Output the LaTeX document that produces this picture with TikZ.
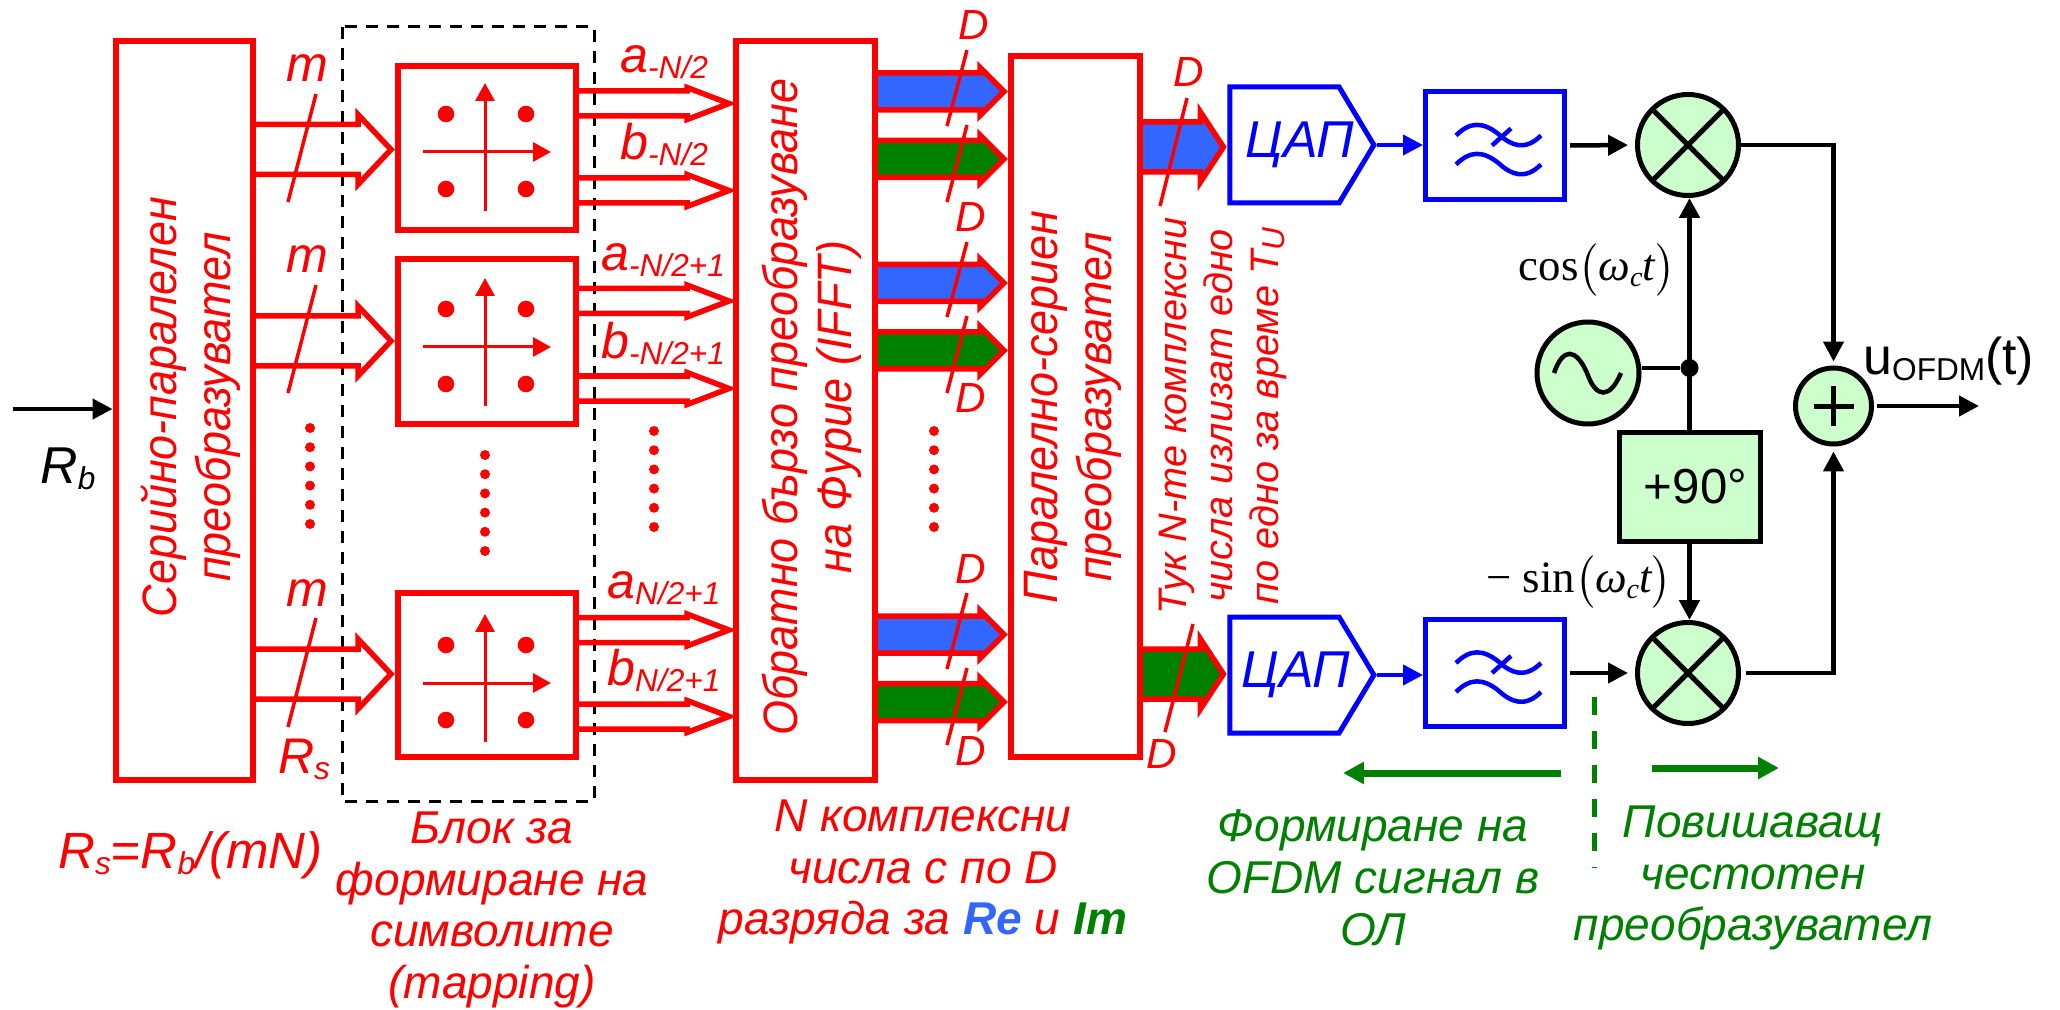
\documentclass[tikz,border=0pt]{standalone}
\usepackage{amsmath}
\usepackage[no-math]{fontspec}
\setmainfont{Liberation Sans}
\newfontfamily\narrowf[FakeStretch=0.93]{Liberation Sans}
\newfontfamily\timesf{Liberation Serif}
\usetikzlibrary{arrows.meta,calc,shapes.symbols}

\definecolor{bitred}{RGB}{255,0,0}
\definecolor{rereal}{RGB}{51,102,255}
\definecolor{imgreen}{RGB}{0,128,0}
\definecolor{mixgreen}{RGB}{204,255,204}

\newlength{\pxu}
\setlength{\pxu}{0.02cm}

% subscript used in the labels
\newcommand{\subs}[1]{\raisebox{-6\pxu}{\fontsize{18}{20}\selectfont #1}}
\newcommand{\carrier}{\timesf$\bigl($\itshape ω\raisebox{-6\pxu}{\fontsize{16}{18}\selectfont c}t\upshape$\bigr)$}

% from, to, y, half shaft, half head, head length, fill
\newcommand{\fatarrow}[7]{%
  \coordinate (t) at ($(#2.west |- 0,#3)+(-4,0)$);
  \draw[busline,fill=#7] (#1.east |- 0,#3) ++(0,-#4) -- ($(t)+(-#6,-#4)$) -- ($(t)+(-#6,-#5)$)
     -- (t) -- ($(t)+(-#6,#5)$) -- ($(t)+(-#6,#4)$) -- ($(#1.east |- 0,#3)+(0,#4)$);
}

\tikzset{
  sigtip/.tip={Triangle[length=11.3pt,width=11.3pt]},
  axistip/.tip={Triangle[length=10.2pt,width=10.8pt]},
  greentip/.tip={Triangle[length=11.9pt,width=11.9pt]},
  busline/.style={draw=bitred,line width=5.5\pxu,line join=miter},
  redbox/.style={draw=bitred,line width=6\pxu,inner sep=0pt},
  bluebox/.style={draw=blue,line width=5\pxu,inner sep=0pt,text=blue},
  dacbox/.style={bluebox,boxsize={144}{116},signal,signal to=east,signal pointer angle=118},
  dactxt/.style={text=blue,inner sep=0pt,font=\fontsize{29.5}{30}\selectfont\itshape},
  blackbox/.style={draw=black,line width=5\pxu,fill=mixgreen,inner sep=0pt},
  boxsize/.style 2 args={minimum width=#1\pxu,minimum height=#2\pxu},
  txt/.style={text=bitred,inner sep=0pt,align=center,font=\narrowf\fontsize{27.5}{30.6}\selectfont\itshape},
  flat/.style={text=bitred,inner sep=0pt,align=center,font=\fontsize{26.2}{29.5}\selectfont\itshape},
  greentxt/.style={flat,text=imgreen},
  sidetxt/.style={flat,font=\fontsize{22.6}{26}\selectfont\itshape},
  dlabel/.style={text=bitred,inner sep=0pt,anchor=base,font=\fontsize{24}{28}\selectfont\itshape},
  mlabel/.style={text=bitred,inner sep=0pt,anchor=base,font=\fontsize{28.5}{30}\selectfont\itshape},
  sublabel/.style={mlabel,anchor=base west},
  mathtxt/.style={inner sep=0pt,font=\fontsize{25.5}{30}\selectfont},
  slash/.style={draw=bitred,line width=3.5\pxu},
  vdots/.style={draw=bitred,line width=10\pxu,line cap=round,dash pattern=on 0pt off 19.2\pxu},
  sig/.style={draw=black,line width=4.5\pxu,-sigtip},
  sigbold/.style={sig,line width=5.5\pxu},
  bluesig/.style={draw=blue,fill=blue,line width=4\pxu,-sigtip},
  greenarrow/.style={draw=imgreen,line width=7\pxu,-greentip},
  qamsym/.pic={
    \draw[bitred,line width=3\pxu,-axistip] (-1,59) -- (-1,-69);
    \draw[bitred,line width=3\pxu,-axistip] (-63,0) -- (65,0);
    \fill[bitred] (-40,-38) circle (8.3);
    \fill[bitred] (40,-38) circle (8.3);
    \fill[bitred] (-40,37) circle (8.3);
    \fill[bitred] (40,37) circle (8.3);
  },
  filtersym/.pic={
    \draw[blue,line width=4.5\pxu] (-39,-10) .. controls (-25,-24) and (-12,-24) .. (4,-11) .. controls (16,0) and (30,6) .. (46,-10);
    \draw[blue,line width=4.5\pxu] (-39,19) .. controls (-25,5) and (-12,5) .. (4,18) .. controls (16,29) and (30,35) .. (46,19);
    \draw[blue,line width=4.5\pxu] (-3,0) -- (16,-17);
  },
  crosssym/.pic={
    \draw[black,line width=5\pxu] (-34,-34) -- (34,34);
    \draw[black,line width=5\pxu] (-34,34) -- (34,-34);
  }
}

\begin{document}
\begin{tikzpicture}[x=\pxu,y=-\pxu]
\useasboundingbox (0,0) rectangle (2060,1010);

        % blocks
        \draw[black,line width=3\pxu,dash pattern=on 12\pxu off 9\pxu] (342,27) rectangle (594,801);
        \node[redbox,boxsize={137}{739}]        (sp)    at (184,410.5)  {};
        \node[redbox,boxsize={178}{164}]        (map1)  at (487,148)    {};
        \node[redbox,boxsize={178}{165}]        (map2)  at (487,341.5)  {};
        \node[redbox,boxsize={178}{164}]        (map3)  at (487,675)    {};
        \node[redbox,boxsize={139}{739}]        (ifft)  at (805.5,410.5) {};
        \node[redbox,boxsize={129}{701}]        (ps)    at (1075.5,406.5) {};
        \node[dacbox] (dac1) at (1284.5,145) {};
        \node[dacbox] (dac2) at (1284.5,675) {};
        \node[bluebox,boxsize={139}{108}]       (fil1)  at (1495,145.5) {};
        \node[bluebox,boxsize={139}{107}]       (fil2)  at (1495,673)   {};
        \node[blackbox,circle,minimum size=101\pxu] (mix1) at (1688,145) {};
        \node[blackbox,circle,minimum size=101\pxu] (mix2) at (1688,673) {};
        \node[blackbox,circle,minimum size=102\pxu] (osc)  at (1588,373) {};
        \node[blackbox,circle,minimum size=76\pxu]  (sum)  at (1833.5,406) {};
        \node[blackbox,boxsize={141}{109},font=\fontsize{28}{30}\selectfont] (shift) at (1689.5,486.5) {\hspace*{12\pxu}+90°};
        \node[circle,fill=black,inner sep=0pt,minimum size=18\pxu] (junc) at (1689.5,368) {};

        % block contents
        \node[dactxt] (dac1txt) at (1300,145) {ЦАП};
        \node[dactxt] (dac2txt) at (1296,675) {ЦАП};
        \pic at (486,152) {qamsym};
        \pic at (486,347) {qamsym};
        \pic at (486,683) {qamsym};
        \pic at (fil1) {filtersym};
        \pic at (fil2) {filtersym};
        \pic at (mix1) {crosssym};
        \pic at (mix2) {crosssym};
        \draw[black,line width=4.5\pxu] (1554,373) .. controls (1563,347) and (1576,348) .. (1587,373) .. controls (1596,399) and (1610,399) .. (1621,373);
        \draw[black,line width=5\pxu] (1813.5,406) -- (1853.5,406);
        \draw[black,line width=5\pxu] (1833.5,386) -- (1833.5,426);

        % buses
        \fatarrow{sp}{map1}{149.5}{25}{35}{33}{none}
        \fatarrow{sp}{map2}{341}{25}{35}{33}{none}
        \fatarrow{sp}{map3}{674}{25}{35}{33}{none}
        \fatarrow{map1}{ifft}{103.5}{12.5}{16}{42}{none}
        \fatarrow{map1}{ifft}{190.5}{12.5}{16}{42}{none}
        \fatarrow{map2}{ifft}{301}{12.5}{16}{42}{none}
        \fatarrow{map2}{ifft}{388.5}{12.5}{16}{42}{none}
        \fatarrow{map3}{ifft}{630}{12.5}{16}{42}{none}
        \fatarrow{map3}{ifft}{716.5}{12.5}{16}{42}{none}
        \fatarrow{ifft}{ps}{91.5}{18.5}{24}{24}{rereal}
        \fatarrow{ifft}{ps}{159}{18.5}{24}{24}{imgreen}
        \fatarrow{ifft}{ps}{283}{18.5}{24}{24}{rereal}
        \fatarrow{ifft}{ps}{350.5}{18.5}{24}{24}{imgreen}
        \fatarrow{ifft}{ps}{634.5}{18.5}{24}{24}{rereal}
        \fatarrow{ifft}{ps}{702}{18.5}{24}{24}{imgreen}
        \fatarrow{ps}{dac1}{147}{25}{35}{23}{rereal}
        \fatarrow{ps}{dac2}{674}{25}{35}{23}{imgreen}

        % bit count marks
        \draw[slash] (316,94) -- (288,202);
        \draw[slash] (316,285) -- (288,393);
        \draw[slash] (316,618) -- (288,727);
        \draw[slash] (967,50) -- (947,126);
        \draw[slash] (967,125) -- (947,202);
        \draw[slash] (967,242) -- (947,317);
        \draw[slash] (967,316) -- (947,393);
        \draw[slash] (967,593) -- (947,669);
        \draw[slash] (967,668) -- (947,745);
        \draw[slash] (1187,98) -- (1160,206);
        \draw[slash] (1193,624) -- (1165,732);

        \draw[vdots] (310,428) -- (310,530);
        \draw[vdots] (485,455) -- (485,557);
        \draw[vdots] (654,431) -- (654,533);
        \draw[vdots] (934,431) -- (934,533);

        % signal paths
        \coordinate (rbin) at (13,409);
        \coordinate (uout) at (1979,406);
        \draw[sig]      (rbin) -- (rbin -| sp.west);
        \draw[bluesig]  (dac1.east) -- (dac1.east -| fil1.west);
        \draw[bluesig]  (dac2.east) -- (dac2.east -| fil2.west);
        \draw[sig,shorten <=3\pxu,shorten >=7\pxu] (fil1.east) -- (mix1.west);
        \draw[sig,shorten <=3\pxu,shorten >=7\pxu] (fil2.east) -- (mix2.west);
        \draw[sig,shorten >=4\pxu] (mix1.east) -| (sum.north);
        \draw[sig,shorten <=5\pxu,shorten >=5\pxu] (mix2.east) -| (sum.south);
        \draw[sig,shorten <=3\pxu] (sum.east) -- (uout);
        \draw[black,line width=4.5\pxu] (osc.east |- junc) -- (junc);
        \draw[sigbold] (shift.north -| junc) -- (mix1.south -| junc);
        \draw[sigbold] (shift.south -| junc) -- (mix2.north -| junc);

        % green separator
        \coordinate (sepa) at (1594,697);
        \coordinate (sepb) at (1594,868);
        \coordinate (fa) at (1561,773);
        \coordinate (fb) at (1343,773);
        \coordinate (ua) at (1652,768);
        \coordinate (ub) at (1779,768);
        \draw[imgreen,line width=5\pxu,dash pattern=on 18\pxu off 16\pxu] (sepa) -- (sepb);
        \draw[greenarrow] (fa) -- (fb);
        \draw[greenarrow] (ua) -- (ub);

        % rotated texts
        \node[txt,rotate=90] (sptxt)   at (191,407)  {Серийно-паралелен\\преобразувател};
        \node[txt,rotate=90] (iffttxt) at (812,407)  {Обратно бързо преобразуване\\на Фурие (IFFT)};
        \node[txt,rotate=90] (pstxt)   at (1073,407) {Паралелно-сериен\\преобразувател};
        \node[sidetxt,rotate=90] (heretxt) at (1223,416) {Тук N-те комплексни\\числа излизат едно\\по едно за време T\subs{U}};

        % bus labels
        \node[mlabel] (m1) at (307,82)  {m};
        \node[mlabel] (m2) at (307,273) {m};
        \node[mlabel] (m3) at (307,606) {m};
        \node[mlabel] (rs) at (304,773) {R\subs{s}};
        \node[dlabel] (d1) at (974,40)  {D};
        \node[dlabel] (d2) at (971,232) {D};
        \node[dlabel] (d3) at (971,413) {D};
        \node[dlabel] (d4) at (971,583) {D};
        \node[dlabel] (d5) at (971,765) {D};
        \node[dlabel] (d6) at (1189,87) {D};
        \node[dlabel] (d7) at (1162,768) {D};
        \node[sublabel] (a1) at (620,73)  {a\subs{-N/2}};
        \node[sublabel] (b1) at (620,160) {b\subs{-N/2}};
        \node[sublabel] (a2) at (601,271) {a\subs{-N/2+1}};
        \node[sublabel] (b2) at (601,358) {b\subs{-N/2+1}};
        \node[sublabel] (a3) at (607,598) {a\subs{N/2+1}};
        \node[sublabel] (b3) at (607,685) {b\subs{N/2+1}};
        \node[sublabel,text=black,font=\fontsize{29.5}{30}\selectfont\itshape] (rb) at (40,483) {R\subs{b}};

        % lower texts
        \node[sublabel,font=\fontsize{29}{30}\selectfont\itshape] (rate) at (58,868) {R\subs{s}=R\subs{b}/(mN)};
        \node[flat] (maptxt)  at (492,910) {Блок за\\формиране на\\символите\\(mapping)};
        \node[flat] (numtxt)  at (923,872) {N комплексни\\числа с по D\\разряда за \textcolor{rereal}{\bfseries Re} и \textcolor{imgreen}{\bfseries Im}};
        \node[greentxt] (ofdmtxt) at (1373,878) {Формиране на\\OFDM сигнал в\\ОЛ};
        \node[greentxt] (uptxt)   at (1753,878) {Повишаващ\\честотен\\преобразувател};

        % carrier and output labels
        \node[mathtxt] (costxt) at (1597,270) {\timesf cos\carrier};
        \node[mathtxt] (sintxt) at (1579,582) {\timesf − sin\carrier};
        \node[inner sep=0pt,anchor=base west,font=\fontsize{29.5}{32}\selectfont] (uofdm) at (1863,375) {u\subs{OFDM}(t)};

\end{tikzpicture}
\end{document}
